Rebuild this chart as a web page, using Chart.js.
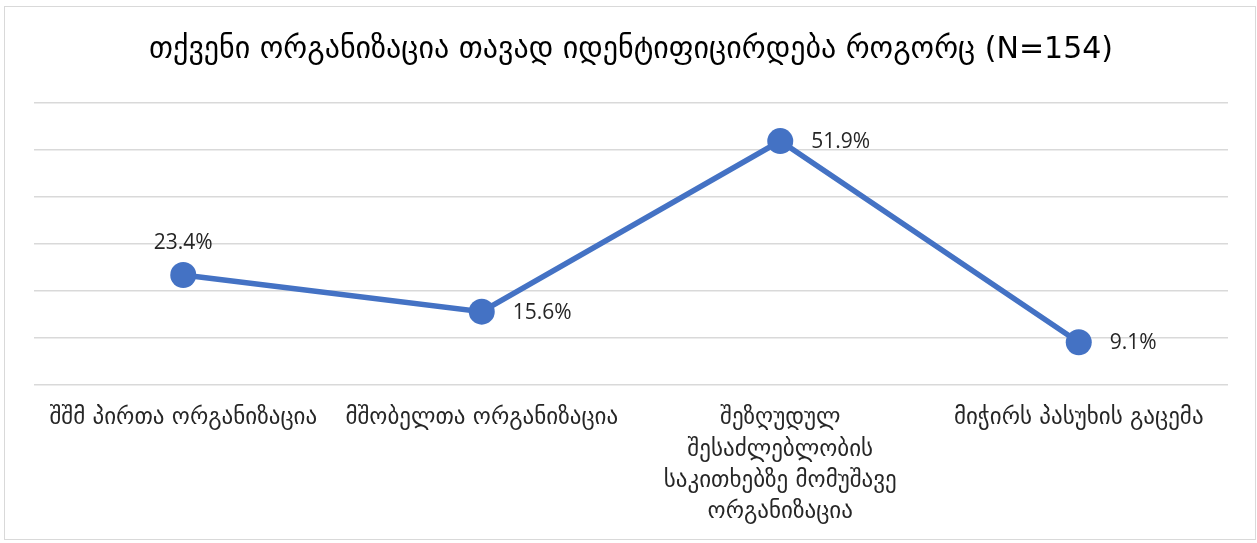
<!DOCTYPE html>
<html>
<head>
<meta charset="utf-8">
<script src="https://cdn.jsdelivr.net/npm/chart.js@4"></script>
<style>
  body { margin: 0; background: #fff; }
  #wrap { position: relative; width: 1257px; height: 543px; }
  #frame { position: absolute; left: 4px; top: 6px; width: 1252px; height: 534px; border: 1.5px solid #d9d9d9; box-sizing: border-box; pointer-events: none; }
</style>
</head>
<body>
<div id="wrap">
  <canvas id="chart" width="1257" height="543"></canvas>
  <div id="frame"></div>
</div>
<script>
// chart data
const titleText = 'თქვენი ორგანიზაცია თავად იდენტიფიცირდება როგორც (N=154)';
const categories = [
  'შშმ პირთა ორგანიზაცია',
  'მშობელთა ორგანიზაცია',
  ['შეზღუდულ', 'შესაძლებლობის', 'საკითხებზე მომუშავე', 'ორგანიზაცია'],
  'მიჭირს პასუხის გაცემა'
];
const shares = [23.4, 15.6, 51.9, 9.1];
const labelAbove = [true, false, false, false];

const blue = '#4472C4';

// simple data labels, first one above the point, the rest to the right
const pointLabels = {
  id: 'pointLabels',
  afterDatasetsDraw(chart) {
    const ctx = chart.ctx;
    const meta = chart.getDatasetMeta(0);
    ctx.save();
    ctx.font = '21px "Open Sans", sans-serif';
    ctx.fillStyle = '#262626';
    meta.data.forEach((pt, i) => {
      const txt = shares[i].toFixed(1) + '%';
      if (labelAbove[i]) {
        ctx.textAlign = 'center';
        ctx.textBaseline = 'middle';
        ctx.fillText(txt, pt.x, pt.y - 32);
      } else {
        ctx.textAlign = 'left';
        ctx.textBaseline = 'middle';
        ctx.fillText(txt, pt.x + 31, pt.y + 1);
      }
    });
    ctx.restore();
  }
};

new Chart(document.getElementById('chart').getContext('2d'), {
  type: 'line',
  data: {
    labels: categories,
    datasets: [{
      data: shares,
      borderColor: blue,
      backgroundColor: blue,
      borderWidth: 5.5,
      pointRadius: 13,
      pointBorderWidth: 0,
      pointBackgroundColor: blue,
      tension: 0
    }]
  },
  options: {
    responsive: false,
    animation: false,
    layout: { padding: { left: 34, right: 29, top: 10, bottom: 18 } },
    plugins: {
      legend: { display: false },
      tooltip: { enabled: false },
      title: {
        display: true,
        text: titleText,
        color: '#000',
        font: { family: 'DejaVu Sans', size: 30, weight: 'normal' },
        padding: { top: 22, bottom: 35 }
      }
    },
    scales: {
      x: {
        offset: true,
        grid: { display: false },
        border: { display: false },
        afterFit: s => { s.height = 140; },
        ticks: {
          color: '#262626',
          font: { family: 'DejaVu Sans', size: 23, lineHeight: 1.35 },
          maxRotation: 0,
          autoSkip: false,
          padding: 10
        }
      },
      y: {
        min: 0,
        max: 60,
        ticks: { display: false, stepSize: 10 },
        border: { display: false },
        grid: { color: '#d9d9d9', lineWidth: 1.5, drawTicks: false }
      }
    }
  },
  plugins: [pointLabels]
});
</script>
</body>
</html>
